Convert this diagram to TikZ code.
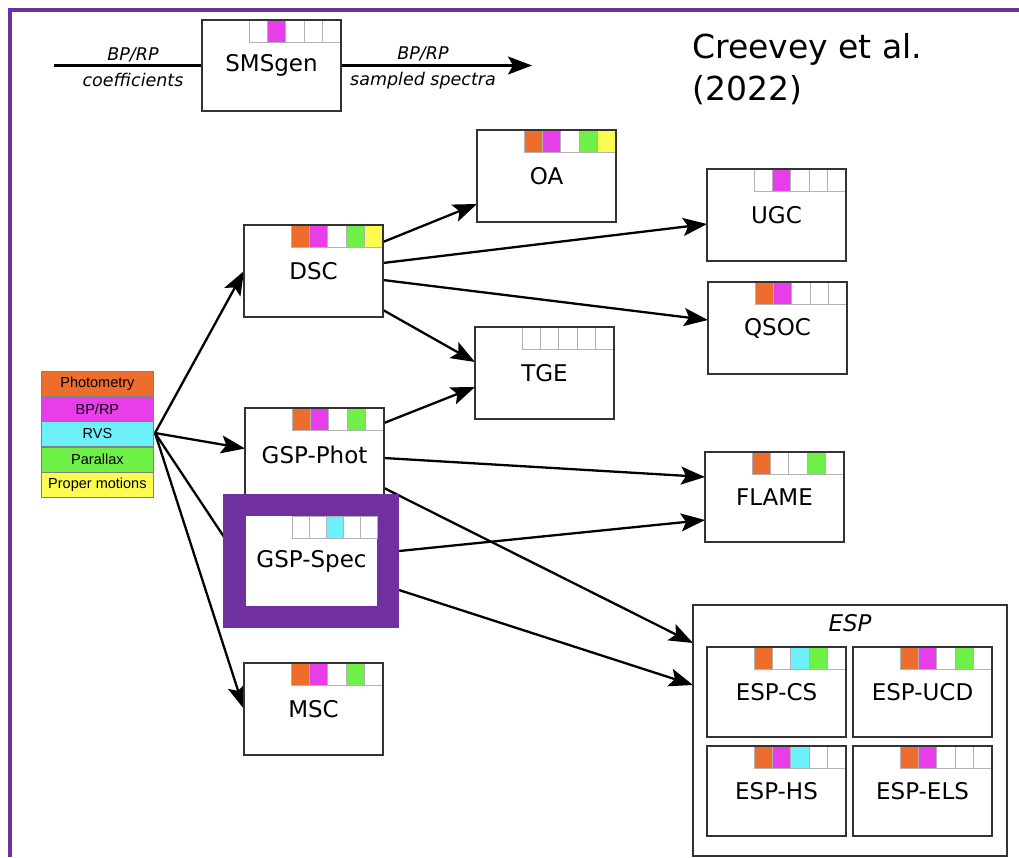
\documentclass[tikz,border=0pt]{standalone}
\usepackage{fontspec}
\setmainfont{DejaVu Sans}
\newfontfamily\legfont{Liberation Sans}
\usetikzlibrary{arrows.meta,calc}
\definecolor{cOr}{RGB}{238,108,44}
\definecolor{cMa}{RGB}{232,62,234}
\definecolor{cCy}{RGB}{108,240,250}
\definecolor{cGr}{RGB}{110,240,70}
\definecolor{cYe}{RGB}{252,252,80}
\definecolor{cPu}{RGB}{112,48,160}
\pgfdeclarelayer{bg}
\pgfsetlayers{bg,main}
\newcommand\cellrow[3][18.4]{%
  \foreach \mycol [count=\myi] in {#3}{%
    \filldraw[fill=\mycol, draw=black!30, line width=0.8pt]
      ($(#2.north east)+({-(6-\myi)*#1},0)$) rectangle ++(#1,22);}}
\newcommand\reborder[1]{\draw[black!80, line width=1.3pt] (#1.north west) rectangle (#1.south east);}
\begin{document}
\begin{tikzpicture}[x=1pt,y=-1pt,
  box/.style={draw=black!80, line width=1.3pt, fill=white, inner sep=0pt, outer sep=0pt,
    anchor=north west, minimum width=139pt, minimum height=92pt, font=\fontsize{23}{27}\selectfont},
  arr/.style={line width=2.3pt, -{Stealth[length=24pt,width=18pt,inset=5pt]}},
  leg/.style={draw=black!50, line width=0.8pt, minimum width=112pt, minimum height=25pt,
    inner sep=0pt, anchor=north west, font=\legfont\fontsize{14.5}{16}\selectfont},
  lab/.style={align=center, inner sep=0pt, font=\itshape\fontsize{17.5}{26}\selectfont},
]
\useasboundingbox (0,0) rectangle (1019,857);
\begin{pgfonlayer}{bg}
\fill[white] (0,0) rectangle (1019,857);
\end{pgfonlayer}
\draw[cPu, line width=4pt, line join=miter] (9.5,857) -- (9.5,9.5) -- (1019,9.5);

% top chain
\node[box, minimum height=91pt] (sms) at (202,20) {SMSgen};
\cellrow{sms}{white,cMa,white,white,white}\reborder{sms}
\coordinate (inl) at (54,65.5);
\coordinate (outr) at (532,65.5);
\node[lab] (l1) at (133,67.5) {BP/RP\\coefficients};
\node[lab] (l2) at (423,67.5) {BP/RP\\sampled spectra};

\node[anchor=north west, inner sep=0pt, align=left, font=\fontsize{33}{42}\selectfont] (cite) at (692,33) {Creevey et al.\\(2022)};

% legend
\node[leg, fill=cOr] (lg1) at (41,371) {Photometry};
\node[leg, fill=cMa] (lg2) at (41,396) {BP/RP};
\node[leg, fill=cCy] (lg3) at (41,421) {RVS};
\node[leg, fill=cGr] (lg4) at (41,446.5) {Parallax};
\node[leg, fill=cYe] (lg5) at (41,471.5) {Proper motions};
\coordinate (src) at (155,433);

% boxes
\node[box] (dsc) at (244,225) {DSC};
\cellrow{dsc}{cOr,cMa,white,cGr,cYe}\reborder{dsc}
\node[box] (oa) at (477,130) {OA};
\cellrow{oa}{cOr,cMa,white,cGr,cYe}\reborder{oa}
\node[box] (ugc) at (707,169) {UGC};
\cellrow{ugc}{white,cMa,white,white,white}\reborder{ugc}
\node[box] (qsoc) at (708,282) {QSOC};
\cellrow{qsoc}{cOr,cMa,white,white,white}\reborder{qsoc}
\node[box] (tge) at (475,327) {TGE};
\cellrow{tge}{white,white,white,white,white}\reborder{tge}
\node[box, minimum height=93pt] (gspphot) at (245,408) {GSP-Phot};
\cellrow{gspphot}{cOr,cMa,white,cGr,white}\reborder{gspphot}
\node[box, minimum height=90pt] (flame) at (705,452) {FLAME};
\cellrow{flame}{cOr,white,white,cGr,white}\reborder{flame}
\node[box] (msc) at (244,663) {MSC};
\cellrow{msc}{cOr,cMa,white,cGr,white}\reborder{msc}

% ESP group
\node[box, minimum width=314pt, minimum height=251pt] (esp) at (693,605) {};
\node[inner sep=0pt, font=\itshape\fontsize{23}{27}\selectfont] (esplab) at (850,623) {ESP};
\node[box, minimum height=90pt] (espcs) at (707,647) {ESP-CS};
\cellrow{espcs}{cOr,white,cCy,cGr,white}\reborder{espcs}
\node[box, minimum height=90pt] (espucd) at (853,647) {ESP-UCD};
\cellrow{espucd}{cOr,cMa,white,cGr,white}\reborder{espucd}
\node[box, minimum height=90pt] (esphs) at (707,746) {ESP-HS};
\cellrow{esphs}{cOr,cMa,cCy,white,white}\reborder{esphs}
\node[box, minimum height=90pt] (espels) at (853,746) {ESP-ELS};
\cellrow{espels}{cOr,cMa,white,white,white}\reborder{espels}

% GSP-Spec highlighted
\node[fill=cPu, inner sep=0pt, outer sep=0pt, anchor=north west, minimum width=176pt, minimum height=134pt] (gspspec) at (223,494) {};
\node[fill=white, inner sep=0pt, outer sep=0pt, anchor=north west, minimum width=131pt, minimum height=90pt,
  font=\fontsize{23}{27}\selectfont] (gspspecin) at (246,516) {GSP-Spec};
\cellrow[17]{gspspecin}{white,white,cCy,white,white}

% connectors
\begin{pgfonlayer}{bg}
\draw[line width=2.3pt] (inl) -- (sms.west);
\draw[arr] (sms.east) -- (outr);
\draw[arr] (src) -- (dsc.west);
\draw[arr] (src) -- ([yshift=6pt]gspphot.west);
\draw[arr] (src) -- ([yshift=-9pt]gspspecin.west);
\draw[arr] (src) -- (msc.west);
\draw[arr] ([yshift=29pt]dsc.east) -- ([yshift=18pt]oa.south west);
\draw[arr] ([yshift=8pt]dsc.east) -- ([yshift=-9pt]ugc.west);
\draw[arr] ([yshift=-9pt]dsc.east) -- ([yshift=8pt]qsoc.west);
\draw[arr] ([yshift=-39pt]dsc.east) -- ([yshift=11pt]tge.west);
\draw[arr] ([yshift=31.5pt]gspphot.east) -- ([yshift=-14pt]tge.west);
\draw[arr] ([yshift=-3.5pt]gspphot.east) -- ([yshift=20pt]flame.west);
\draw[arr] ([yshift=-33.5pt]gspphot.east) -- ([yshift=-38pt]esp.north west);
\draw[arr] ([yshift=10pt]gspspec.east) -- ([yshift=-23pt]flame.west);
\draw[arr] ([yshift=-29pt]gspspec.east) -- ([yshift=-80pt]esp.north west);
\end{pgfonlayer}
\end{tikzpicture}
\end{document}
